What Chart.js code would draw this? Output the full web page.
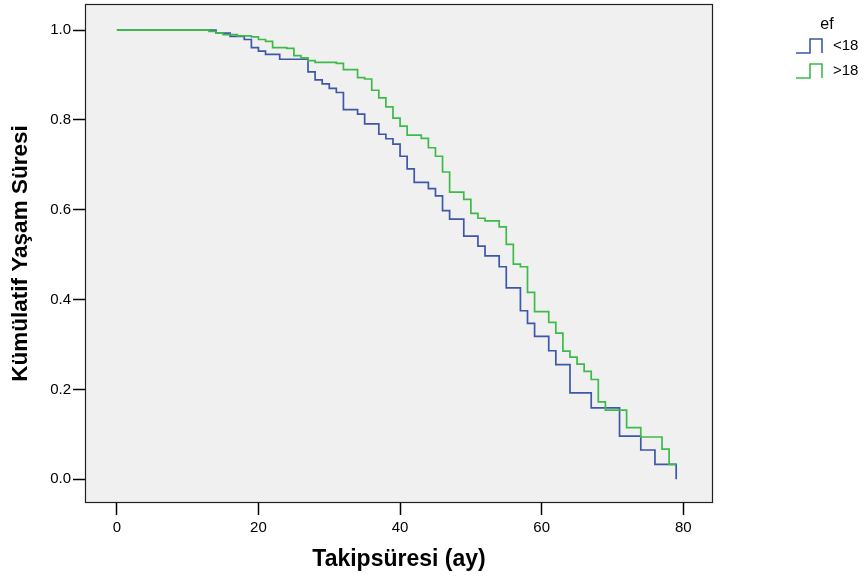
<!DOCTYPE html>
<html>
<head>
<meta charset="utf-8">
<script src="https://cdn.jsdelivr.net/npm/chart.js@4.4.0/dist/chart.umd.min.js"></script>
<style>
  html, body { margin: 0; padding: 0; background: #fff; }
  #c { display: block; }
</style>
</head>
<body>
<canvas id="c" width="866" height="578"></canvas>
<script>
// Kaplan-Meier adımları: zaman (ay) ve o anda düşülen kümülatif yaşam değeri
const timesLow = [0, 14, 16, 18, 19, 20, 21, 23, 27, 28, 29, 30, 31, 32, 34, 35, 37, 38, 39, 40,
  41, 42, 44, 45, 46, 47, 49, 51, 52, 54, 55, 57, 58, 59, 61, 62, 64, 67, 71, 74, 76, 79];
const survLow = [1.0, 0.993, 0.986, 0.979, 0.961, 0.953, 0.946, 0.935, 0.907, 0.889, 0.880, 0.870,
  0.861, 0.823, 0.813, 0.791, 0.768, 0.758, 0.746, 0.719, 0.691, 0.661, 0.647, 0.631, 0.598, 0.579,
  0.541, 0.519, 0.497, 0.473, 0.426, 0.375, 0.347, 0.318, 0.286, 0.255, 0.192, 0.159, 0.096, 0.065,
  0.033, 0.0];

const timesHigh = [0, 13, 14, 15, 17, 19, 20, 21, 22, 24, 25, 26, 27, 28, 31, 32, 34, 35, 36, 37,
  38, 39, 40, 41, 43, 44, 45, 46, 47, 49, 50, 51, 52, 54, 55, 56, 57, 58, 59, 61, 62, 63, 64, 65,
  66, 67, 68, 69, 72, 74, 77, 78, 79];
const survHigh = [1.0, 0.997, 0.993, 0.990, 0.987, 0.985, 0.979, 0.975, 0.961, 0.959, 0.943, 0.938,
  0.932, 0.928, 0.926, 0.912, 0.894, 0.891, 0.866, 0.849, 0.829, 0.804, 0.786, 0.766, 0.759, 0.738,
  0.719, 0.684, 0.639, 0.623, 0.592, 0.581, 0.575, 0.562, 0.523, 0.479, 0.473, 0.416, 0.373, 0.349,
  0.325, 0.285, 0.272, 0.256, 0.240, 0.222, 0.172, 0.154, 0.115, 0.094, 0.067, 0.033, 0.033];

const groupLabels = ['<18', '>18'];
const groupColors = ['#3d57a9', '#3cbb48'];
const legendTitle = 'ef';

const xTicks = [0, 20, 40, 60, 80];
const yTicks = [0, 0.2, 0.4, 0.6, 0.8, 1.0];

const toPoints = (ts, ss) => ts.map((t, i) => ({ x: t, y: ss[i] }));

// Arka plan ve çerçeve
const framePlugin = {
  id: 'frame',
  beforeDraw(chart) {
    const { ctx, chartArea: a } = chart;
    ctx.save();
    ctx.fillStyle = '#ffffff';
    ctx.fillRect(0, 0, chart.width, chart.height);
    ctx.fillStyle = '#f0f0f0';
    ctx.fillRect(a.left, a.top, a.right - a.left, a.bottom - a.top);
    ctx.restore();
  },
  afterDraw(chart) {
    const { ctx, chartArea: a } = chart;
    ctx.save();
    ctx.strokeStyle = '#222';
    ctx.lineWidth = 1.2;
    ctx.strokeRect(a.left + 0.5, a.top + 0.5, a.right - a.left - 1, a.bottom - a.top - 1);
    ctx.restore();
  }
};

// SPSS tarzı lejant (basamak simgeli)
const stepLegend = {
  id: 'stepLegend',
  afterDraw(chart) {
    const ctx = chart.ctx;
    ctx.save();
    ctx.fillStyle = '#000';
    ctx.font = '16px "Liberation Sans", Arial, sans-serif';
    ctx.textAlign = 'center';
    ctx.textBaseline = 'middle';
    ctx.fillText(legendTitle, 827, 25);
    ctx.font = '15px "Liberation Sans", Arial, sans-serif';
    ctx.textAlign = 'left';
    groupLabels.forEach((lab, i) => {
      const yb = 53 + i * 25, yt = yb - 14;
      ctx.strokeStyle = groupColors[i];
      ctx.lineWidth = 1.6;
      ctx.beginPath();
      ctx.moveTo(796, yb);
      ctx.lineTo(810, yb);
      ctx.lineTo(810, yt);
      ctx.lineTo(822, yt);
      ctx.lineTo(822, yb);
      ctx.stroke();
      ctx.fillText(lab, 833, yt + 7);
    });
    ctx.restore();
  }
};

new Chart(document.getElementById('c'), {
  type: 'line',
  data: {
    datasets: [
      {
        label: groupLabels[0],
        data: toPoints(timesLow, survLow),
        borderColor: groupColors[0],
        borderWidth: 1.7,
        stepped: 'before',
        pointRadius: 0,
        fill: false,
        order: 1
      },
      {
        label: groupLabels[1],
        data: toPoints(timesHigh, survHigh),
        borderColor: groupColors[1],
        borderWidth: 1.7,
        stepped: 'before',
        pointRadius: 0,
        fill: false,
        order: 0
      }
    ]
  },
  options: {
    responsive: false,
    animation: false,
    devicePixelRatio: 1,
    layout: { padding: { left: 0, right: 153, top: 4, bottom: 0 } },
    plugins: { legend: { display: false }, tooltip: { enabled: false } },
    scales: {
      x: {
        type: 'linear',
        min: -4.5,
        max: 84.2,
        afterBuildTicks: s => { s.ticks = xTicks.map(v => ({ value: v })); },
        afterFit: s => { s.height = 75; s.paddingLeft = 0; s.paddingRight = 0; },
        border: { display: false },
        grid: { drawOnChartArea: false, drawTicks: true, tickLength: 12, tickColor: '#000', tickWidth: 1.5 },
        ticks: {
          color: '#000',
          padding: 4,
          maxRotation: 0,
          font: { family: '"Liberation Sans", Arial, sans-serif', size: 15 },
          callback: v => String(v)
        },
        title: {
          display: true,
          text: 'Takipsüresi (ay)',
          color: '#000',
          padding: { top: 0, bottom: 5 },
          font: { family: '"Liberation Sans", Arial, sans-serif', size: 23, weight: 'bold' }
        }
      },
      y: {
        type: 'linear',
        min: -0.053,
        max: 1.058,
        afterBuildTicks: s => { s.ticks = yTicks.map(v => ({ value: v })); },
        afterFit: s => { s.width = 85; s.paddingTop = 0; s.paddingBottom = 0; },
        border: { display: false },
        grid: { drawOnChartArea: false, drawTicks: true, tickLength: 12, tickColor: '#000', tickWidth: 1.5 },
        ticks: {
          color: '#000',
          padding: 2,
          font: { family: '"Liberation Sans", Arial, sans-serif', size: 15 },
          callback: v => Number(v).toFixed(1)
        },
        title: {
          display: true,
          text: 'Kümülatif Yaşam Süresi',
          color: '#000',
          padding: { top: 7, bottom: 0 },
          font: { family: '"Liberation Sans", Arial, sans-serif', size: 22.5, weight: 'bold' }
        }
      }
    }
  },
  plugins: [framePlugin, stepLegend]
});
</script>
</body>
</html>
